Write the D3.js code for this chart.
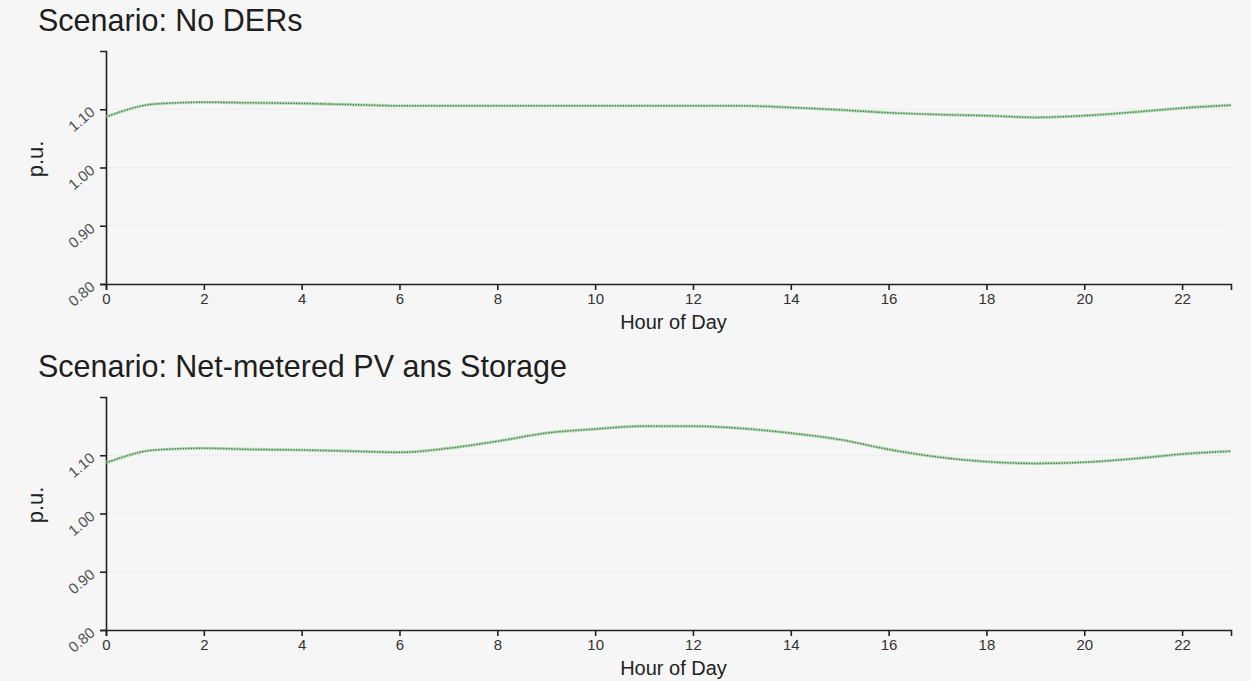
<!DOCTYPE html>
<html>
<head>
<meta charset="utf-8">
<script src="https://cdn.jsdelivr.net/npm/d3@7/dist/d3.min.js"></script>
<style>
  html, body { margin: 0; padding: 0; background: #f6f6f6; }
  svg { display: block; font-family: "Liberation Sans", Arial, sans-serif; }
</style>
</head>
<body>
<svg id="chart" width="1251" height="681"></svg>
<script>
// Hourly voltage (p.u.) for each scenario
const hours = d3.range(0, 24);
const noDerVoltage = [1.087, 1.109, 1.112, 1.111, 1.110, 1.108, 1.106, 1.106, 1.106, 1.106, 1.106, 1.106,
                      1.106, 1.106, 1.103, 1.099, 1.094, 1.091, 1.089, 1.086, 1.089, 1.095, 1.102, 1.107];
const pvStorageVoltage = [1.087, 1.109, 1.112, 1.110, 1.109, 1.107, 1.105, 1.112, 1.124, 1.138, 1.145, 1.150,
                          1.150, 1.146, 1.138, 1.127, 1.110, 1.097, 1.089, 1.086, 1.088, 1.094, 1.102, 1.107];
const panelTitles = ["Scenario: No DERs", "Scenario: Net-metered PV ans Storage"];
const yTicks = [0.8, 0.9, 1.0, 1.1];
const xTicks = [0, 2, 4, 6, 8, 10, 12, 14, 16, 18, 20, 22];
const yDomain = [0.8, 1.2];
const xLabel = "Hour of Day";
const yLabel = "p.u.";

const panels = [
  { title: panelTitles[0], values: noDerVoltage, top: 51 },
  { title: panelTitles[1], values: pvStorageVoltage, top: 397 }
];

const svg = d3.select("#chart");
const left = 106, right = 1231, plotH = 233;

const x = d3.scaleLinear().domain([0, 23]).range([left, right]);

panels.forEach(p => {
  const g = svg.append("g");
  const y = d3.scaleLinear().domain(yDomain).range([p.top + plotH, p.top]);

  // title
  g.append("text")
    .attr("x", 38).attr("y", p.top - 20)
    .attr("font-size", 30.5).attr("fill", "#1e1e1e")
    .text(p.title);

  // faint horizontal gridlines
  g.selectAll("line.grid").data(yTicks.slice(1)).join("line")
    .attr("class", "grid")
    .attr("x1", left).attr("x2", right)
    .attr("y1", d => y(d)).attr("y2", d => y(d))
    .attr("stroke", "#ededed").attr("stroke-width", 1);

  // y axis
  const ya = g.append("g")
    .attr("transform", `translate(${left},0)`)
    .call(d3.axisLeft(y).tickValues(yTicks).tickFormat(d3.format(".2f")).tickSize(6).tickSizeOuter(6));
  ya.select(".domain").attr("stroke", "#222").attr("stroke-width", 1.6);
  ya.selectAll(".tick line").attr("stroke", "#222").attr("stroke-width", 1.6);
  ya.selectAll(".tick text")
    .attr("x", null).attr("dy", null)
    .attr("text-anchor", "end")
    .attr("font-size", 15).attr("fill", "#555")
    .attr("font-family", "Liberation Sans, Arial, sans-serif")
    .attr("transform", "translate(-10,4) rotate(-40)");

  // x axis
  const xa = g.append("g")
    .attr("transform", `translate(0,${p.top + plotH})`)
    .call(d3.axisBottom(x).tickValues(xTicks).tickFormat(d3.format("d")).tickSize(6).tickSizeOuter(6));
  xa.select(".domain").attr("stroke", "#222").attr("stroke-width", 1.6);
  xa.selectAll(".tick line").attr("stroke", "#222").attr("stroke-width", 1.6);
  xa.selectAll(".tick text")
    .attr("font-size", 15).attr("fill", "#333")
    .attr("font-family", "Liberation Sans, Arial, sans-serif")
    .attr("y", 9);

  // axis titles
  g.append("text")
    .attr("x", (left + right) / 2 + 5).attr("y", p.top + plotH + 45)
    .attr("text-anchor", "middle").attr("font-size", 20).attr("fill", "#222")
    .text(xLabel);
  g.append("text")
    .attr("transform", `translate(43,${p.top + 108}) rotate(-90)`)
    .attr("text-anchor", "middle").attr("font-size", 22).attr("fill", "#222")
    .text(yLabel);

  // voltage line: soft green body with a grey dotted core
  const line = d3.line().x((d, i) => x(hours[i])).y(d => y(d)).curve(d3.curveMonotoneX);
  g.append("path").datum(p.values)
    .attr("d", line).attr("fill", "none")
    .attr("stroke", "#a6dea6").attr("stroke-width", 3.2).attr("stroke-opacity", 0.8);
  g.append("path").datum(p.values)
    .attr("d", line).attr("fill", "none")
    .attr("stroke", "#5b7560").attr("stroke-width", 1.5)
    .attr("stroke-dasharray", "1.5,1.2");
});
</script>
</body>
</html>
